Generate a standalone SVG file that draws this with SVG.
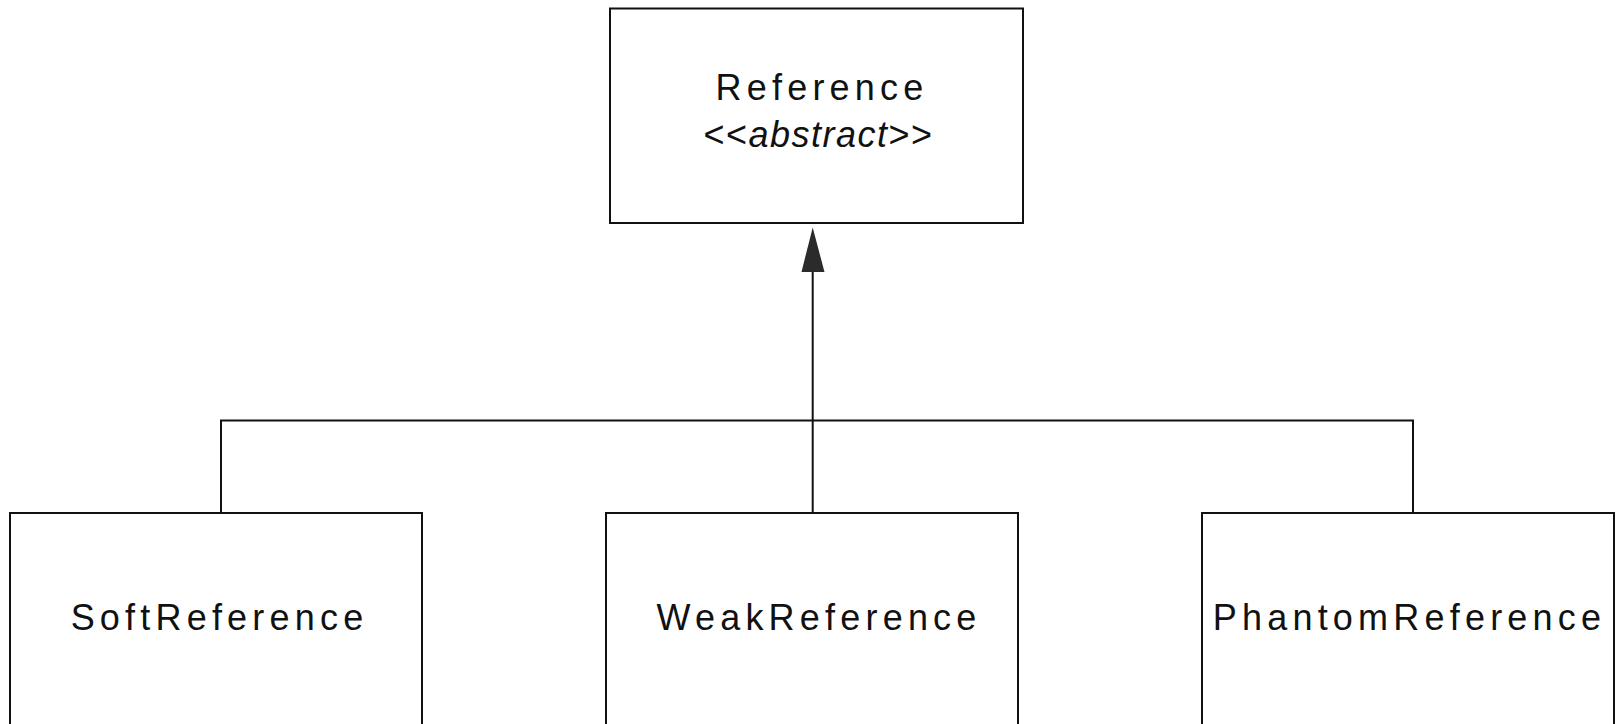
<svg xmlns="http://www.w3.org/2000/svg" width="1617" height="724" viewBox="0 0 1617 724">
<style>
.box{fill:#fff;stroke:#111;stroke-width:2}
.lbl{font-family:"Liberation Sans",Arial,sans-serif;font-size:36px;letter-spacing:5.2px;fill:#111;text-anchor:middle}
.ital{font-family:"Liberation Sans",Arial,sans-serif;font-size:36px;letter-spacing:1.5px;fill:#111;text-anchor:middle}
.conn{fill:none;stroke:#111;stroke-width:2}
</style>
<rect width="1617" height="724" fill="#fff"/>
<g id="connectors">
<path class="conn" d="M221 513 V420.5 H1413 V513"/>
<path class="conn" d="M812.7 513 V270"/>
<polygon points="812.7,227.5 801.5,272 824.5,272" fill="#2b2b2b"/>
</g>
<g id="node-reference">
<rect class="box" x="610" y="8.5" width="413" height="214.5"/>
<text class="lbl" x="822" y="100">Reference</text>
<text class="ital" x="818.5" y="147">&lt;&lt;<tspan font-style="italic">abstract</tspan>&gt;&gt;</text>
</g>
<g id="node-soft">
<rect class="box" x="10" y="513" width="412" height="240"/>
<text class="lbl" x="219.5" y="630">SoftReference</text>
</g>
<g id="node-weak">
<rect class="box" x="606" y="513" width="412" height="240"/>
<text class="lbl" x="819" y="630">WeakReference</text>
</g>
<g id="node-phantom">
<rect class="box" x="1202" y="513" width="412" height="240"/>
<text class="lbl" x="1409.5" y="630">PhantomReference</text>
</g>
</svg>
